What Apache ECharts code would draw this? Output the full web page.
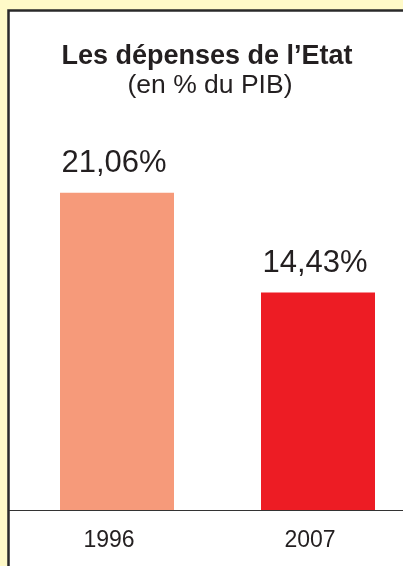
<!DOCTYPE html>
<html>
<head>
<meta charset="utf-8">
<script src="https://cdn.jsdelivr.net/npm/echarts@6/dist/echarts.min.js"></script>
<style>
html,body{margin:0;padding:0;background:#fffac8;}
#chart{width:403px;height:566px;}
</style>
</head>
<body>
<div id="chart"></div>
<script>
var titleText = "Les dépenses de l\u2019Etat";
var subtitleText = "(en % du PIB)";
var categories = ["1996", "2007"];
var values = [21.06, 14.43];
var valueLabels = ["21,06%", "14,43%"];
var barColors = ["#f69a7a", "#ed1c24"];

var FONT = "Liberation Sans, Arial, Helvetica, sans-serif";
var chart = echarts.init(document.getElementById('chart'));
chart.setOption({
  backgroundColor: '#fffac8',
  animation: false,
  graphic: [
    { type: 'rect', z: -10, shape: { x: 8.5, y: 10.5, width: 430, height: 600 },
      style: { fill: '#ffffff', stroke: '#2a2a2a', lineWidth: 2.5 } },
    { type: 'line', z: 5, shape: { x1: 9, y1: 510.5, x2: 18, y2: 510.5 },
      style: { stroke: '#333333', lineWidth: 1 } }
  ],
  title: [
    { text: titleText, left: 202, top: 38, textAlign: 'center',
      textStyle: { fontFamily: FONT, fontSize: 27, fontWeight: 'bold', color: '#231f20' } },
    { text: subtitleText, left: 205, top: 67, textAlign: 'center',
      textStyle: { fontFamily: FONT, fontSize: 26.5, fontWeight: 'normal', color: '#231f20' } }
  ],
  grid: { left: 16.5, width: 402, top: 58, height: 452, containLabel: false, outerBoundsMode: 'none' },
  xAxis: {
    type: 'category',
    data: categories,
    axisLine: { show: true, lineStyle: { color: '#333333', width: 1 } },
    axisTick: { show: false },
    axisLabel: { fontFamily: FONT, fontSize: 23, color: '#231f20', margin: 19, padding: [0, 16, 0, 0] }
  },
  yAxis: {
    type: 'value', min: 0, max: 30, show: false,
    splitLine: { show: false }
  },
  series: [{
    type: 'bar',
    barWidth: 114,
    data: values.map(function (v, i) {
      return { value: v, itemStyle: { color: barColors[i] } };
    }),
    label: {
      show: true, position: 'top', distance: 14, offset: [-3, 0],
      fontFamily: FONT, fontSize: 31, color: '#231f20',
      formatter: function (p) { return valueLabels[p.dataIndex]; }
    }
  }]
});
</script>
</body>
</html>
